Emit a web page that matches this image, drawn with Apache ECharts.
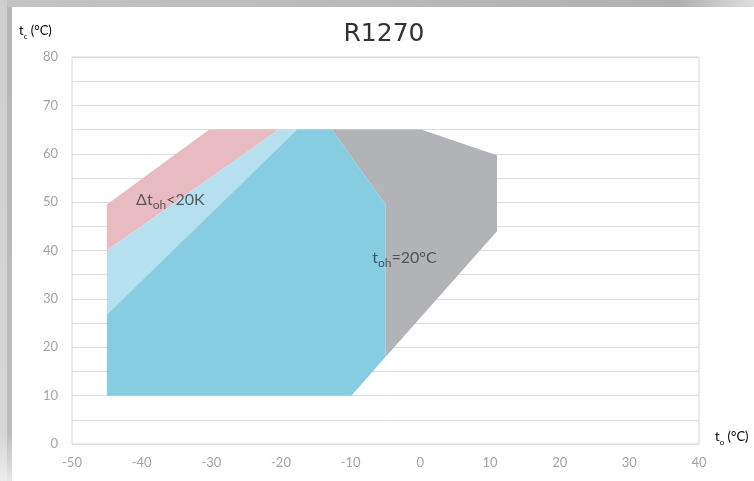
<!DOCTYPE html>
<html>
<head>
<meta charset="utf-8">
<script src="https://cdn.jsdelivr.net/npm/echarts@6/dist/echarts.min.js"></script>
<style>
html,body{margin:0;padding:0;background:#fff;}
#main{width:754px;height:481px;}
</style>
</head>
<body>
<div id="main"></div>
<script>
// ---- data ----
const titleText = 'R1270';
const xTicks = [-50, -40, -30, -20, -10, 0, 10, 20, 30, 40];
const yTicks = [0, 10, 20, 30, 40, 50, 60, 70, 80];
// envelope regions, [t_o, t_c] in °C
const regionPink = [[-45, 40], [-45, 49.5], [-30.3, 65], [-20.3, 65]];
const regionLightBlue = [[-45, 26.7], [-45, 40], [-20.3, 65], [-17.7, 65]];
const regionBlue = [[-45, 10], [-9.9, 10], [-5, 18], [-5, 49.5], [-12.7, 65], [-17.7, 65], [-45, 26.7]];
const regionGray = [[-12.7, 65], [0.1, 65], [11, 59.7], [11, 44], [-5, 18], [-5, 49.5]];
// annotation anchor points
const labelDt = [-40.8, 50.0];
const labelToh = [-6.9, 38.0];

const colors = { pink: '#e8bbc3', lightBlue: '#b6e0ef', blue: '#86cde2', gray: '#b1b3b6' };

function polySeries(name, pts, color) {
  return {
    type: 'custom',
    name: name,
    data: pts,
    encode: { x: 0, y: 1 },
    silent: true,
    renderItem: function (params, api) {
      if (params.dataIndex !== 0) return null;
      const points = pts.map(p => api.coord(p));
      return { type: 'polygon', shape: { points: points }, style: { fill: color } };
    },
    z: 2
  };
}

const chart = echarts.init(document.getElementById('main'), null, { renderer: 'canvas' });
const labelRich = {
  m: { fontSize: 16, color: '#3a3a3a', fontFamily: 'Lato', verticalAlign: 'top', lineHeight: 20 },
  s: { fontSize: 12, color: '#3a3a3a', fontFamily: 'Lato', verticalAlign: 'top', lineHeight: 14, padding: [7, 0, 0, 0] }
};
const axNameRich = {
  m: { fontSize: 13, color: '#9a9a9a', fontFamily: 'Lato', verticalAlign: 'top', lineHeight: 16 },
  s: { fontSize: 8, color: '#9a9a9a', fontFamily: 'Lato', verticalAlign: 'top', lineHeight: 10, padding: [8, 0, 0, 0] }
};

chart.setOption({
  animation: false,
  backgroundColor: '#fff',
  grid: { left: 72, right: 55, top: 57, bottom: 37, show: true, borderColor: '#d9d9d9', borderWidth: 1, z: 1 },
  xAxis: {
    type: 'value', min: xTicks[0], max: xTicks[xTicks.length - 1], interval: 10,
    axisLine: { show: false }, axisTick: { show: false }, splitLine: { show: false },
    axisLabel: { color: '#a3a3a3', fontSize: 13, fontFamily: 'Lato', margin: 12 }
  },
  yAxis: {
    type: 'value', min: yTicks[0], max: yTicks[yTicks.length - 1], interval: 5,
    axisLine: { show: false }, axisTick: { show: false },
    splitLine: { show: true, lineStyle: { color: '#dcdcdc', width: 1 } },
    axisLabel: {
      color: '#a3a3a3', fontSize: 13, fontFamily: 'Lato', margin: 14,
      formatter: v => (yTicks.indexOf(v) >= 0 ? String(v) : '')
    }
  },
  graphic: [
    { type: 'rect', left: 0, top: 0, shape: { width: 754, height: 7 }, style: { fill: new echarts.graphic.LinearGradient(0, 0, 1, 0, [{ offset: 0, color: '#c4c4c4' }, { offset: 0.9, color: '#b0b0b0' }, { offset: 1, color: '#dedede' }]) }, silent: true, z: 100 },
    { type: 'rect', left: 0, top: 0, shape: { width: 7, height: 481 }, style: { fill: new echarts.graphic.LinearGradient(0, 0, 0, 1, [{ offset: 0, color: '#cfcfcf' }, { offset: 0.9, color: '#d6d6d6' }, { offset: 1, color: '#ececec' }]) }, silent: true, z: 100 },
    { type: 'rect', left: 7, top: 7, shape: { width: 5, height: 474 }, style: { fill: new echarts.graphic.LinearGradient(0, 0, 0, 1, [{ offset: 0, color: '#b5b5b5' }, { offset: 0.9, color: '#bdbdbd' }, { offset: 1, color: '#e6e6e6' }]) }, silent: true, z: 100 },
    { type: 'text', x: 384, y: 34, style: { text: titleText, fontSize: 25, fontFamily: 'DejaVu Sans', fontWeight: 'normal', fill: '#333', textAlign: 'center', textVerticalAlign: 'middle' }, z: 100 },
    { type: 'text', x: 19, y: 24, style: { text: '{m|t}{s|c}{m| (°C)}', rich: axNameRich, textAlign: 'left', textVerticalAlign: 'top' }, z: 100 },
    { type: 'text', x: 715, y: 430, style: { text: '{m|t}{s|o}{m| (°C)}', rich: axNameRich, textAlign: 'left', textVerticalAlign: 'top' }, z: 100 }
  ],
  series: [
    polySeries('pink', regionPink, colors.pink),
    polySeries('lightBlue', regionLightBlue, colors.lightBlue),
    polySeries('gray', regionGray, colors.gray),
    polySeries('blue', regionBlue, colors.blue),
    {
      type: 'scatter', symbolSize: 0, silent: true, z: 5,
      data: [
        { value: labelDt, label: { show: true, position: 'right', distance: 0, formatter: '{m|Δt}{s|oh}{m|<20K}', rich: labelRich } },
        { value: labelToh, label: { show: true, position: 'right', distance: 0, formatter: '{m|t}{s|oh}{m|=20°C}', rich: labelRich } }
      ]
    }
  ]
});
</script>
</body>
</html>
